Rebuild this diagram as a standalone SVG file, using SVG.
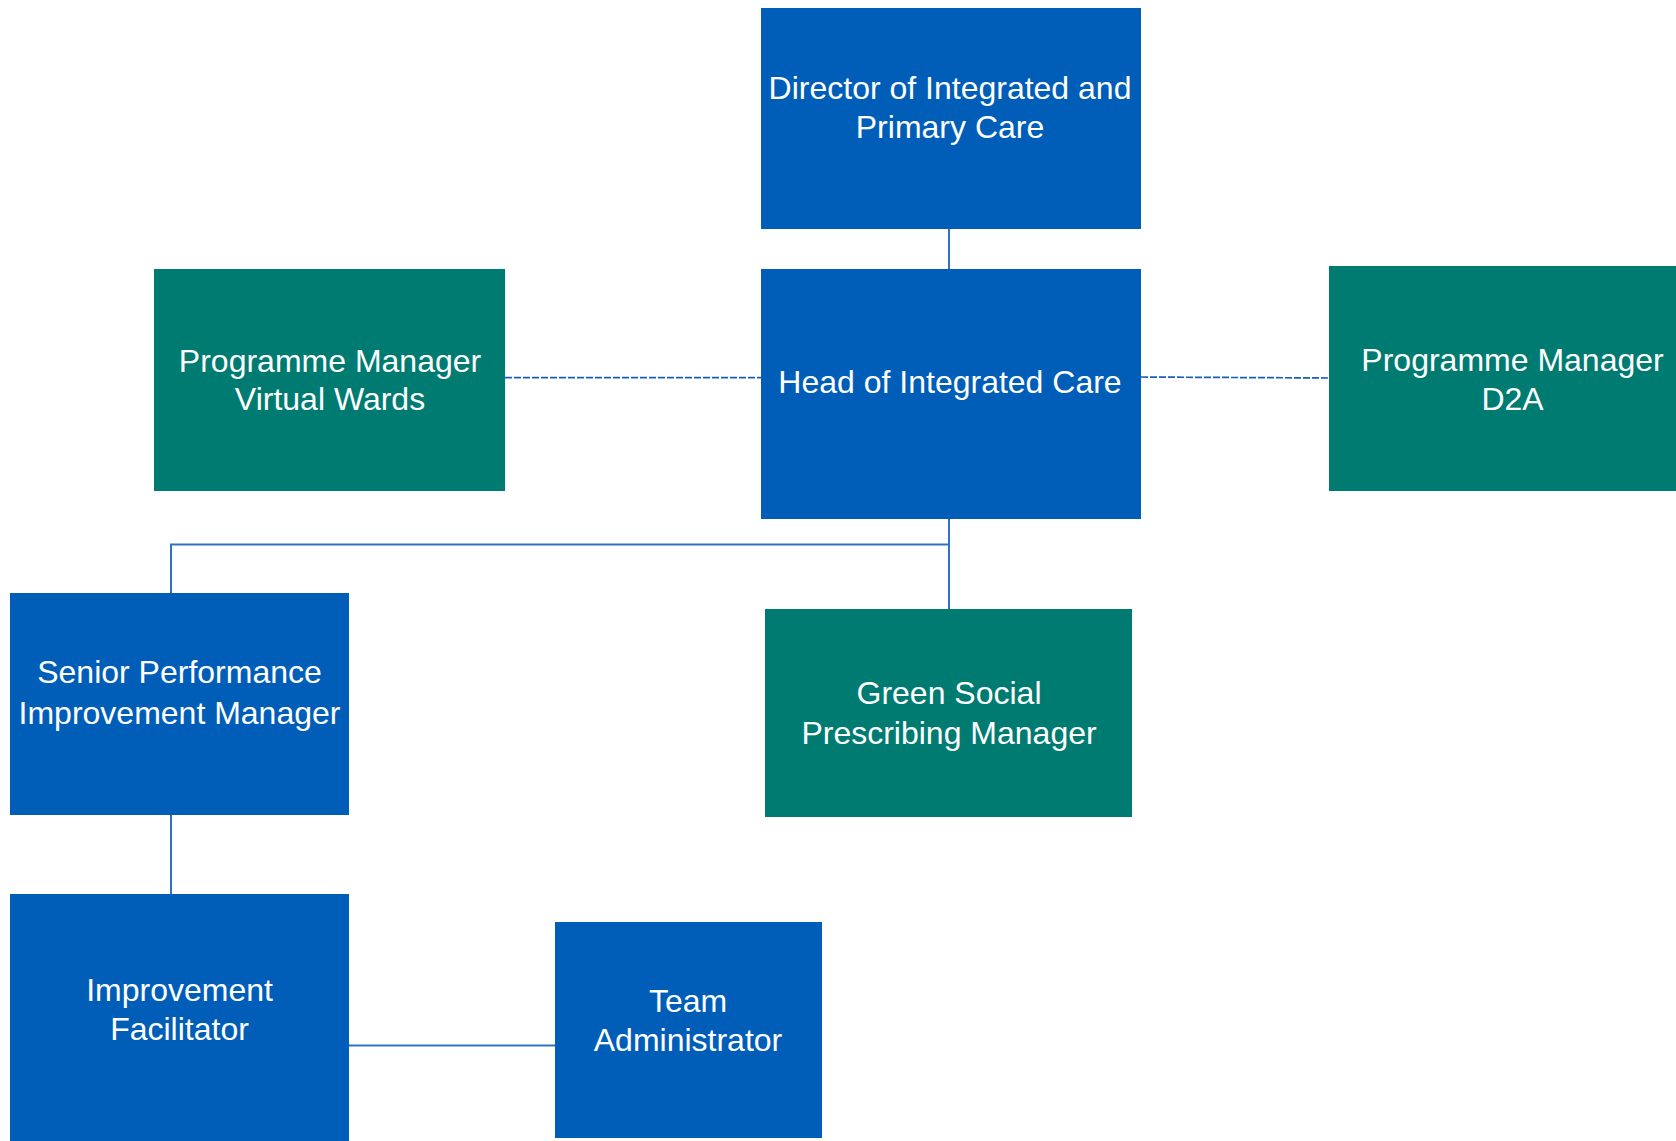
<svg xmlns="http://www.w3.org/2000/svg" width="1676" height="1141" viewBox="0 0 1676 1141">
<style>
.blue{fill:#005EB8}
.teal{fill:#007B71}
text{font-family:"Liberation Sans",Arial,sans-serif;font-size:32px;fill:#ffffff;text-anchor:middle}
.solid{stroke:#2F72C4;stroke-width:2;fill:none}
.dash{stroke:#1A5EC2;stroke-width:1.7;stroke-dasharray:7 2;fill:none}
</style>
<rect width="1676" height="1141" fill="#ffffff"/>
<g id="connectors">
<line class="solid" x1="949" y1="229" x2="949" y2="269"/>
<line class="solid" x1="949" y1="519" x2="949" y2="609"/>
<polyline class="solid" points="949,544.5 171,544.5 171,593"/>
<line class="solid" x1="171" y1="815" x2="171" y2="894"/>
<line class="solid" x1="349" y1="1045.5" x2="555" y2="1045.5"/>
<line class="dash" x1="505" y1="377.7" x2="761" y2="377.7"/>
<line class="dash" x1="1141" y1="377" x2="1329" y2="378"/>
</g>
<g id="director">
<rect class="blue" x="761" y="8" width="380" height="221"/>
<text x="950" y="99">Director of Integrated and</text>
<text x="950" y="138">Primary Care</text>
</g>
<g id="head">
<rect class="blue" x="761" y="269" width="380" height="250"/>
<text x="950" y="393">Head of Integrated Care</text>
</g>
<g id="pm-virtual-wards">
<rect class="teal" x="154" y="269" width="351" height="222"/>
<text x="330" y="371.5">Programme Manager</text>
<text x="330" y="410">Virtual Wards</text>
</g>
<g id="pm-d2a">
<rect class="teal" x="1329" y="266" width="347" height="225"/>
<text x="1512.5" y="370.5">Programme Manager</text>
<text x="1512.5" y="410">D2A</text>
</g>
<g id="senior-performance">
<rect class="blue" x="10" y="593" width="339" height="222"/>
<text x="179.5" y="683">Senior Performance</text>
<text x="179.5" y="724">Improvement Manager</text>
</g>
<g id="green-social">
<rect class="teal" x="765" y="609" width="367" height="208"/>
<text x="949" y="704">Green Social</text>
<text x="949" y="744">Prescribing Manager</text>
</g>
<g id="improvement-facilitator">
<rect class="blue" x="10" y="894" width="339" height="247"/>
<text x="179.5" y="1001">Improvement</text>
<text x="179.5" y="1039.5">Facilitator</text>
</g>
<g id="team-administrator">
<rect class="blue" x="555" y="922" width="267" height="216"/>
<text x="688" y="1012">Team</text>
<text x="688" y="1050.5">Administrator</text>
</g>
</svg>
